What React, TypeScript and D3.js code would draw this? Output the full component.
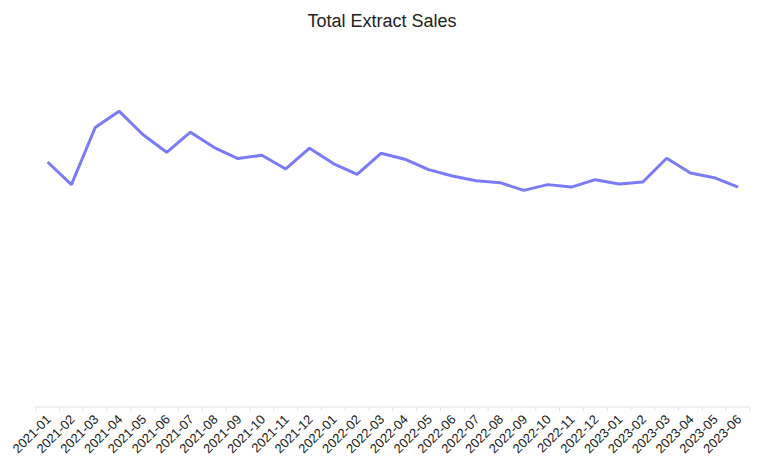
import React from "react";
import * as d3 from "d3";

const months = [
  "2021-01","2021-02","2021-03","2021-04","2021-05","2021-06","2021-07","2021-08","2021-09","2021-10","2021-11","2021-12",
  "2022-01","2022-02","2022-03","2022-04","2022-05","2022-06","2022-07","2022-08","2022-09","2022-10","2022-11","2022-12",
  "2023-01","2023-02","2023-03","2023-04","2023-05","2023-06",
];
const sales = [
  2471, 2243, 2819, 2984, 2748, 2569, 2772, 2617, 2506, 2539, 2401, 2610,
  2455, 2347, 2559, 2499, 2394, 2330, 2283, 2263, 2185, 2243, 2218, 2293,
  2249, 2269, 2509, 2360, 2313, 2218,
];
const yDomain = [0, 3500];
const title = "Total Extract Sales";

export default function App() {
  const W = 768, H = 468;
  const left = 35.7, right = 750, top = 60, bottom = 407;
  const x = d3.scaleBand<string>().domain(months).range([left, right]);
  const y = d3.scaleLinear().domain(yDomain).range([bottom, top]);
  const line = d3.line<number>()
    .x((_, i) => (x(months[i]) as number) + x.bandwidth() / 2)
    .y((d) => y(d));
  const tickXs = months.map((m) => x(m) as number).concat([right]);
  return (
    <svg width={W} height={H} style={{ position: "absolute", left: 0, top: 0, fontFamily: "'Liberation Sans', Arial, sans-serif" }}>
      <text x={382} y={27} textAnchor="middle" fontSize={18} fill="#222">{title}</text>
      <line x1={left} x2={right} y1={bottom} y2={bottom} stroke="#dfe3ea" strokeWidth={1} />
      {tickXs.map((tx, i) => (
        <line key={i} x1={tx} x2={tx} y1={bottom} y2={bottom + 4} stroke="#dfe3ea" strokeWidth={1} />
      ))}
      {months.map((m) => {
        const cx = (x(m) as number) + x.bandwidth() / 2;
        return (
          <text key={m} transform={`translate(${cx + 1},${bottom + 10}) rotate(-45)`} textAnchor="end" dy="0.35em" fontSize={13} fill="#222">{m}</text>
        );
      })}
      <path d={line(sales) || ""} fill="none" stroke="#7b7bf7" strokeWidth={3} strokeLinejoin="bevel" />
    </svg>
  );
}
